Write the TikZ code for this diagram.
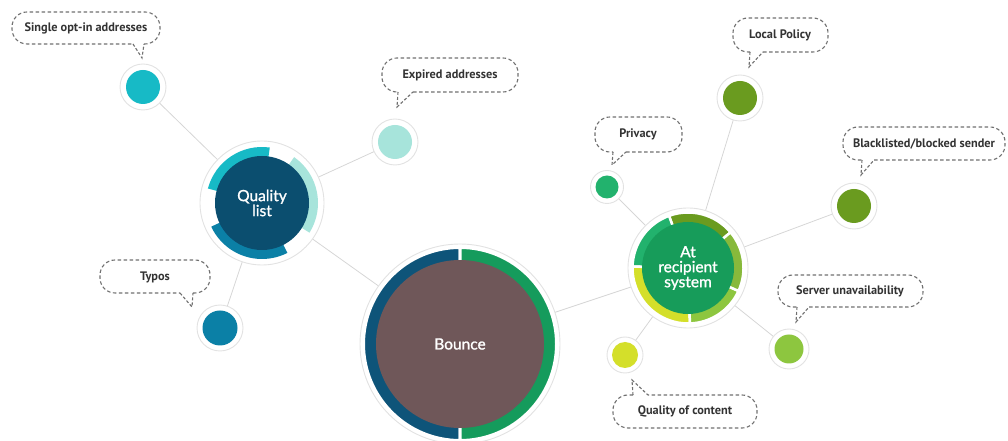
\documentclass[tikz,border=0pt]{standalone}
\usepackage{fontspec}
\setmainfont{Lato}
\newfontfamily\circfont[FakeBold=1.2]{Lato}
\newfontfamily\bubfont{PT Sans}
\definecolor{linegray}{HTML}{D6D6D6}
\definecolor{halogray}{HTML}{E2E2E2}
\definecolor{dashgray}{HTML}{707070}
\definecolor{textgray}{HTML}{333333}
\definecolor{qnavy}{HTML}{0B4E6F}
\definecolor{tealc}{HTML}{17BAC6}
\definecolor{mintc}{HTML}{A7E4DB}
\definecolor{bluec}{HTML}{0B80A6}
\definecolor{brownc}{HTML}{6F5759}
\definecolor{bnavy}{HTML}{0E5479}
\definecolor{bgreen}{HTML}{159B5C}
\definecolor{agreen}{HTML}{179C5A}
\definecolor{olivec}{HTML}{6A9B1F}
\definecolor{rightc}{HTML}{87B93B}
\definecolor{lgreenc}{HTML}{8DC63F}
\definecolor{yellowc}{HTML}{D4DF2A}
\definecolor{tlgreen}{HTML}{22B26D}
\begin{document}
\begin{tikzpicture}[x=1pt,y=1pt,
  conn/.style={draw=linegray, line width=0.8pt},
  halo/.style={circle, fill=white, draw=halogray, line width=0.9pt, inner sep=0pt},
  dot/.style={circle, inner sep=0pt},
  bub/.style={draw=dashgray, line width=1.1pt, dash pattern=on 3.5pt off 2.5pt, rounded corners=15pt},
  tailline/.style={draw=dashgray, line width=1.1pt, dash pattern=on 3pt off 2pt},
  btext/.style={font=\bubfont\bfseries\fontsize{12.3}{14}\selectfont, text=textgray, inner sep=0pt},
  ctext/.style={font=\circfont\fontsize{15.5}{15}\selectfont, text=white, align=center}
]
\useasboundingbox (0,0) rectangle (1008,441);

% centres
\coordinate (Q) at (262,238);
\coordinate (B) at (460,97);
\coordinate (A) at (688,173);
\coordinate (S) at (143,354);
\coordinate (E) at (395,299);
\coordinate (T) at (220,113);
\coordinate (P) at (607,254);
\coordinate (L) at (740,343);
\coordinate (K) at (854,235);
\coordinate (V) at (789,92);
\coordinate (C) at (625,86);

% connectors
\draw[conn] (S) -- (Q);
\draw[conn] (E) -- (Q);
\draw[conn] (T) -- (Q);
\draw[conn] (Q) -- (B);
\draw[conn] (B) -- (A);
\draw[conn] (A) -- (P);
\draw[conn] (A) -- (L);
\draw[conn] (A) -- (K);
\draw[conn] (A) -- (V);
\draw[conn] (A) -- (C);

% small circles
\node[halo, minimum size=46pt] (Sh) at (S) {};
\node[dot, fill=tealc, minimum size=34pt] (Sd) at (S) {};
\node[halo, minimum size=46pt] (Eh) at (E) {};
\node[dot, fill=mintc, minimum size=34pt] (Ed) at (E) {};
\node[halo, minimum size=46pt] (Th) at (T) {};
\node[dot, fill=bluec, minimum size=35pt] (Td) at (T) {};
\node[halo, minimum size=33pt] (Ph) at (P) {};
\node[dot, fill=tlgreen, minimum size=23pt] (Pd) at (P) {};
\node[halo, minimum size=46pt] (Lh) at (L) {};
\node[dot, fill=olivec, minimum size=34pt] (Ld) at (L) {};
\node[halo, minimum size=46pt] (Kh) at (K) {};
\node[dot, fill=olivec, minimum size=34pt] (Kd) at (K) {};
\node[halo, minimum size=40pt] (Vh) at (V) {};
\node[dot, fill=lgreenc, minimum size=29pt] (Vd) at (V) {};
\node[halo, minimum size=36pt] (Ch) at (C) {};
\node[dot, fill=yellowc, minimum size=26pt] (Cd) at (C) {};

% Quality list
\node[halo, minimum size=124pt] (Qh) at (Q) {};
\fill[tealc] (Q) -- ++(82:56) arc[start angle=82, end angle=165, radius=56] -- cycle;
\fill[mintc] (Q) -- ++(-32:56) arc[start angle=-32, end angle=55, radius=56] -- cycle;
\fill[bluec] (Q) -- ++(205:56) arc[start angle=205, end angle=297, radius=56] -- cycle;
\node[dot, fill=qnavy, minimum size=94pt, ctext] (Qn) at (Q) {Quality\\list};

% Bounce
\node[halo, minimum size=200pt] (Bh) at (B) {};
\filldraw[fill=bnavy, draw=white, line width=3pt] (B) -- ++(90:96.5) arc[start angle=90, end angle=270, radius=96.5] -- cycle;
\filldraw[fill=bgreen, draw=white, line width=3pt] (B) -- ++(-90:96.5) arc[start angle=-90, end angle=90, radius=96.5] -- cycle;
\node[dot, fill=brownc, minimum size=168pt, ctext] (Bn) at (B) {Bounce};

% At recipient system
\node[halo, minimum size=120pt] (Ah) at (A) {};
\filldraw[fill=olivec, draw=white, line width=2.5pt] (A) -- ++(40:55.5) arc[start angle=40, end angle=110, radius=55.5] -- cycle;
\filldraw[fill=tlgreen, draw=white, line width=2.5pt] (A) -- ++(110:55.5) arc[start angle=110, end angle=178.5, radius=55.5] -- cycle;
\filldraw[fill=yellowc, draw=white, line width=2.5pt] (A) -- ++(178.5:55.5) arc[start angle=178.5, end angle=272, radius=55.5] -- cycle;
\filldraw[fill=lgreenc, draw=white, line width=2.5pt] (A) -- ++(272:55.5) arc[start angle=272, end angle=335.5, radius=55.5] -- cycle;
\filldraw[fill=rightc, draw=white, line width=2.5pt] (A) -- ++(-24.5:55.5) arc[start angle=-24.5, end angle=40, radius=55.5] -- cycle;
\node[dot, fill=agreen, minimum size=92pt, ctext] (An) at (A) {At\\recipient\\system};

% callouts
\draw[bub] (144,397) -- (160,397) -- (160,429) -- (12,429) -- (12,397) -- (133,397);
\draw[tailline] (133,397) -- (142,383) -- (144,397);
\node[btext] (Sl) at (86,413) {Single opt-in addresses};

\draw[bub] (413,349) -- (518,349) -- (518,383) -- (382,383) -- (382,349) -- (398,349);
\draw[tailline] (398,349) -- (397,334) -- (413,349);
\node[btext] (El) at (450,366) {Expired addresses};

\draw[bub] (193,148) -- (210,148) -- (210,181) -- (100,181) -- (100,148) -- (180,148);
\draw[tailline] (180,148) -- (192,134) -- (193,148);
\node[btext] (Tl) at (155,164) {Typos};

\draw[bub] (626,289) -- (682,289) -- (682,324) -- (595,324) -- (595,289) -- (613,289);
\draw[tailline] (613,289) -- (612,276) -- (626,289);
\node[btext] (Pl) at (638,307) {Privacy};

\draw[bub] (763,389) -- (828,389) -- (828,423) -- (733,423) -- (733,389) -- (750,389);
\draw[tailline] (750,389) -- (749,374) -- (763,389);
\node[btext] (Ll) at (780,406) {Local Policy};

\draw[bub] (874,281) -- (1005,281) -- (1005,314) -- (843,314) -- (843,281) -- (862,281);
\draw[tailline] (862,281) -- (861,266) -- (874,281);
\node[btext] (Kl) at (924,297) {Blacklisted/blocked sender};

\draw[bub] (809,134) -- (923,134) -- (923,166) -- (778,166) -- (778,134) -- (797,134);
\draw[tailline] (797,134) -- (796,119) -- (809,134);
\node[btext] (Vl) at (850,150) {Server unavailability};

\draw[bub] (633,46) -- (613,46) -- (613,13) -- (757,13) -- (757,46) -- (648,46);
\draw[tailline] (633,46) -- (632,61) -- (648,46);
\node[btext] (Cl) at (685,30) {Quality of content};
\end{tikzpicture}
\end{document}
